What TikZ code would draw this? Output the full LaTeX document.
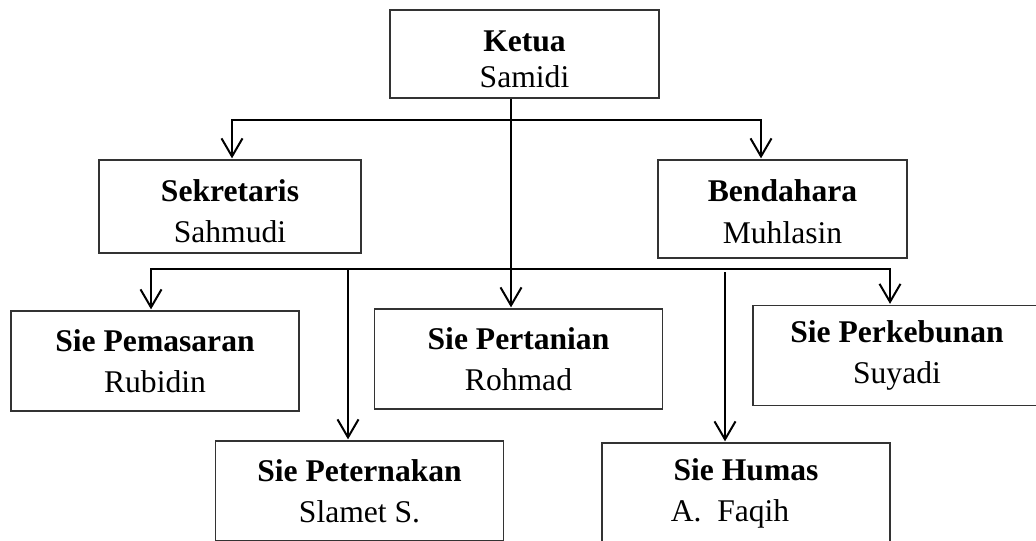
\documentclass[tikz,border=0pt]{standalone}
\usepackage{fontspec}
\setmainfont{Liberation Serif}
\usetikzlibrary{arrows.meta,positioning}
\newcommand{\tinggi}[1]{\rule{0pt}{#1}}

\begin{document}
\begin{tikzpicture}[
  x=0.5pt, y=-0.5pt,
  box/.style={draw=black!80, line width=0.65pt, inner sep=0pt, align=center,
              font=\fontsize{15.8}{20.5}\selectfont},
  sie/.style={box, minimum width=144pt, minimum height=50pt},
  bus/.style={line width=1pt, line join=miter},
  arr/.style={bus, -{Straight Barb[length=9pt, width=10.5pt, line width=1pt]}, shorten >=0.5pt},
]
\useasboundingbox (0,0) rectangle (1036,540);

\node[box, minimum width=134.5pt, minimum height=44pt,
      font=\fontsize{15.8}{18}\selectfont] (ketua) at (524.5,54) {\tinggi{16pt}\textbf{Ketua}\\Samidi};
\node[box, minimum width=131pt, minimum height=46.5pt] (sekre) at (230,206.5) {\tinggi{16pt}\textbf{Sekretaris}\\Sahmudi};
\node[box, minimum width=124.5pt, minimum height=49pt,
      font=\fontsize{15.8}{21}\selectfont] (benda) at (782.5,209) {\tinggi{14pt}\textbf{Bendahara}\\Muhlasin};

\node[sie] (pemasaran) at (155,361) {\textbf{Sie Pemasaran}\\Rubidin};
\node[sie] (pertanian) at (518.5,359) {\textbf{Sie Pertanian}\\Rohmad};
\node[sie] (perkebunan) at (897,355.5) {\textbf{Sie Perkebunan}\\Suyadi};
\node[sie] (peternakan) at (359.5,491) {\textbf{Sie Peternakan}\\Slamet S.};
\node[sie] (humas) at (746,493) {\textbf{Sie Humas}\\A.\ \ Faqih\hspace*{16pt}};

\coordinate (top) at ([xshift=-6.75pt]ketua.south);
\coordinate (busL) at (232,120);
\coordinate (busR) at (761,120);
\draw[arr] (top |- busL) -- (busL) -- (busL |- sekre.north);
\draw[arr] (top |- busR) -- (busR) -- (busR |- benda.north);
\draw[arr] (top) -- (top |- pertanian.north);

\coordinate (bus2L) at (151,269);
\coordinate (bus2R) at (890,269);
\coordinate (tern) at (348,269);
\coordinate (hum) at (725,272);
\draw[arr] (tern) -- (bus2L) -- (bus2L |- pemasaran.north);
\draw[arr] (tern) -- (bus2R) -- (bus2R |- perkebunan.north);
\draw[arr] (tern) -- (tern |- peternakan.north);
\draw[arr] (hum) -- (hum |- humas.north);
\end{tikzpicture}
\end{document}
